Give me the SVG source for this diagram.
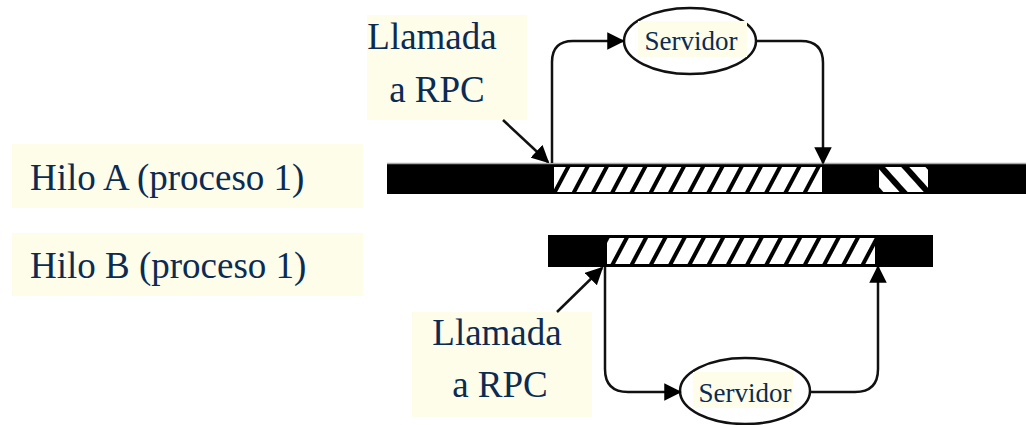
<svg xmlns="http://www.w3.org/2000/svg" width="1026" height="425" viewBox="0 0 1026 425">
  <defs>
    <pattern id="hatchFwd" patternUnits="userSpaceOnUse" width="17" height="40" patternTransform="rotate(28)">
      <rect width="17" height="40" fill="#fff"/>
      <rect x="0" y="0" width="4" height="40" fill="#000"/>
    </pattern>
    <pattern id="hatchBack" patternUnits="userSpaceOnUse" width="18" height="40" patternTransform="rotate(-42)">
      <rect width="18" height="40" fill="#fff"/>
      <rect x="0" y="0" width="6" height="40" fill="#000"/>
    </pattern>
    <marker id="arrow" viewBox="0 0 10 10" refX="9" refY="5" markerWidth="7" markerHeight="7" markerUnits="strokeWidth" orient="auto">
      <path d="M0,0 L10,5 L0,10 z" fill="#000"/>
    </marker>
  </defs>

  <!-- Shared text look for every label -->
  <g font-family="Liberation Serif" fill="#0c2b52">

  <!-- Thread labels -->
  <g id="label-hilo-a">
    <rect fill="#fdfdea" x="12" y="144" width="351" height="64"/>
    <text font-size="37" x="30" y="190">Hilo A (proceso 1)</text>
  </g>
  <g id="label-hilo-b">
    <rect fill="#fdfdea" x="12" y="233" width="351" height="63"/>
    <text font-size="37" x="30" y="278">Hilo B (proceso 1)</text>
  </g>

  <!-- Timeline of thread A -->
  <g id="bar-a">
    <rect x="387" y="164" width="639" height="30" fill="#000"/>
    <line x1="387" y1="163.5" x2="1026" y2="163.5" stroke="#aaa" stroke-width="1.5"/>
    <rect x="554" y="167" width="268" height="25" fill="url(#hatchFwd)"/>
    <rect x="879" y="167" width="49" height="25" fill="url(#hatchBack)"/>
  </g>

  <!-- Timeline of thread B -->
  <g id="bar-b">
    <rect x="548" y="235" width="385" height="32" fill="#000"/>
    <rect x="607" y="238" width="268" height="26" fill="url(#hatchFwd)"/>
  </g>

  <!-- RPC call labels -->
  <g id="call-a">
    <rect fill="#fdfdea" x="367" y="15" width="160" height="105"/>
    <text font-size="37" x="432" y="49" text-anchor="middle">Llamada</text>
    <text font-size="37" x="437" y="102" text-anchor="middle">a RPC</text>
  </g>
  <g id="call-b">
    <rect fill="#fdfdea" x="412" y="312" width="180" height="105"/>
    <text font-size="37" x="497" y="345" text-anchor="middle">Llamada</text>
    <text font-size="37" x="500" y="397" text-anchor="middle">a RPC</text>
  </g>

  <!-- Server nodes -->
  <g id="server-a">
    <ellipse fill="#fff" stroke="#111" stroke-width="2.5" cx="690" cy="41" rx="66" ry="33"/>
    <rect fill="#fdfdea" x="638" y="21" width="109" height="36"/>
    <text font-size="27" x="691" y="50" text-anchor="middle">Servidor</text>
  </g>
  <g id="server-b">
    <ellipse fill="#fff" stroke="#111" stroke-width="2.5" cx="745" cy="391" rx="65" ry="33"/>
    <rect fill="#fdfdea" x="693" y="372" width="100" height="36"/>
    <text font-size="27" x="745" y="402" text-anchor="middle">Servidor</text>
  </g>
  </g>

  <!-- Connectors -->
  <g id="connectors" fill="none" stroke="#111" stroke-width="2.5">
    <line x1="503" y1="120" x2="548" y2="162" marker-end="url(#arrow)"/>
    <path d="M552,163 V62 Q552,41 573,41 H623" marker-end="url(#arrow)"/>
    <path d="M756,41 H801 Q823,41 823,63 V163" marker-end="url(#arrow)"/>

    <line x1="557" y1="312" x2="602" y2="268" marker-end="url(#arrow)"/>
    <path d="M605,267 V369 Q605,392 628,392 H680" marker-end="url(#arrow)"/>
    <path d="M810,392 H855 Q878,392 878,369 V267" marker-end="url(#arrow)"/>
  </g>
</svg>
